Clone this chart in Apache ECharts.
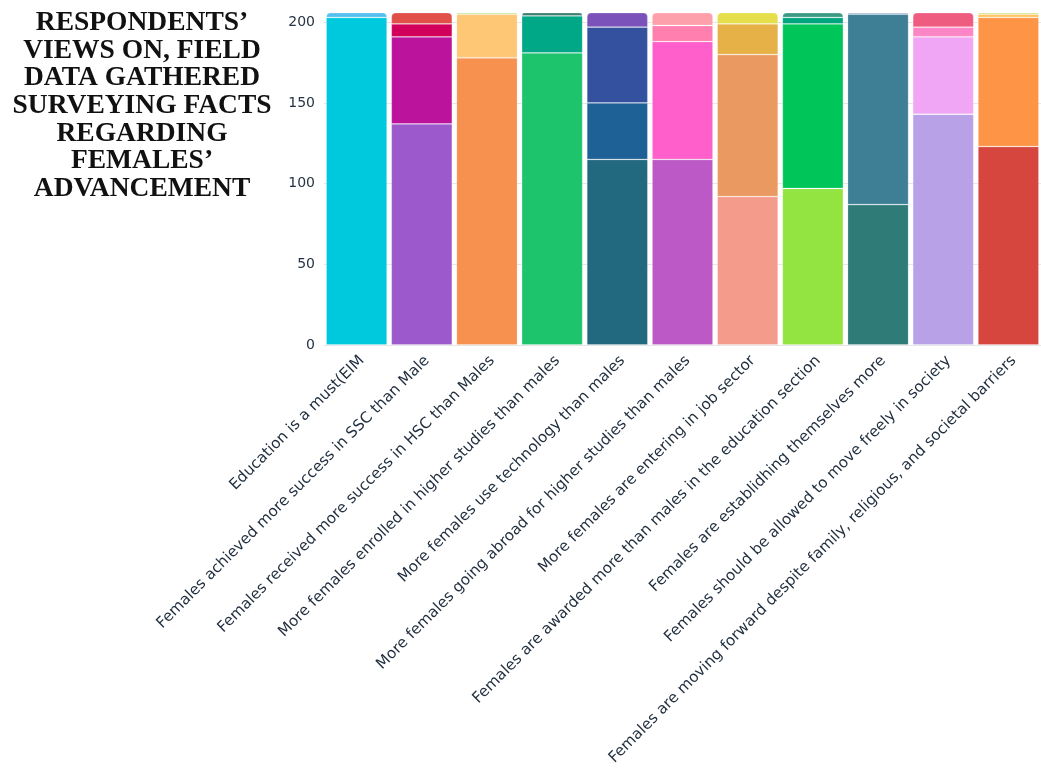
<!DOCTYPE html>
<html>
<head>
<meta charset="utf-8">
<script src="https://cdn.jsdelivr.net/npm/echarts@6/dist/echarts.min.js"></script>
<style>
html,body{margin:0;padding:0;background:#fff;}
#chart{width:1041px;height:769px;}
</style>
</head>
<body>
<div id="chart"></div>
<script>
const titleText = "RESPONDENTS’\nVIEWS ON, FIELD\nDATA GATHERED\nSURVEYING FACTS\nREGARDING\nFEMALES’\nADVANCEMENT";
const categories = [
  "Education is a must(EIM",
  "Females achieved more success in SSC than Male",
  "Females received more success in HSC than Males",
  "More females enrolled in higher studies than males",
  "More females use technology than males",
  "More females going abroad for higher studies than males",
  "More females are entering in job sector",
  "Females are awarded more than males in the education section",
  "Females are establidhing themselves more",
  "Females should be allowed to move freely in society",
  "Females are moving forward despite family, religious, and societal barriers"
];
const yTicks = [0, 50, 100, 150, 200];
const level0 = [203, 137, 178, 181, 115, 115, 92, 97, 87, 143, 123];
const level1 = [3, 54, 27, 23, 35, 73, 88, 102, 118, 48, 80];
const level2 = [null, 8, 1, 2, 47, 10, 19, 4, 1, 6, 2];
const level3 = [null, 7, null, null, 9, 8, 7, 3, null, 9, 1];
const colors0 = ["#00c9dd","#9b59cb","#f6914f","#1dc46c","#22687f","#bd59c6","#f59b8c","#93e441","#2f7b77","#b9a1e8","#d6453e"];
const colors1 = ["#55bff0","#bb139c","#fdc776","#00a887","#1d6196","#ff5fcb","#ea9a60","#00c65a","#3e7f96","#f0a6f4","#fd9446"];
const colors2 = [null,"#d1005a","#a6e07a","#3c7e72","#3451a0","#ff7fae","#e6b146","#00a680","#8aa0c8","#fd87c6","#ffc462"];
const colors3 = [null,"#e05048",null,null,"#7b52b9","#fda0ab","#e4df4a","#3d9a82",null,"#ee5d80","#b8dc5a"];

const levels = [level0, level1, level2, level3];
const levelColors = [colors0, colors1, colors2, colors3];

function topLevel(i){
  let t = 0;
  levels.forEach((arr, k) => { if (arr[i] != null) t = k; });
  return t;
}

const series = levels.map((arr, k) => ({
  type: 'bar',
  stack: 'total',
  barWidth: 61,
  data: arr.map((v, i) => v == null ? '-' : ({
    value: v,
    itemStyle: {
      color: levelColors[k][i],
      borderColor: 'rgba(255,255,255,0.28)',
      borderWidth: 0.8,
      borderRadius: topLevel(i) === k ? [4, 4, 0, 0] : 0
    }
  }))
}));

const chart = echarts.init(document.getElementById('chart'));
chart.setOption({
  animation: false,
  backgroundColor: '#ffffff',
  title: {
    text: titleText,
    left: 142,
    top: 9,
    padding: 0,
    textAlign: 'center',
    textStyle: {
      fontFamily: '"Liberation Serif", "Times New Roman", serif',
      fontWeight: 'bold',
      fontSize: 27.5,
      lineHeight: 27.7,
      color: '#111111'
    }
  },
  grid: { left: 324, width: 728, top: 12.6, height: 332.4, containLabel: false },
  xAxis: {
    type: 'category',
    data: categories,
    axisLine: { show: false },
    axisTick: { show: false },
    axisLabel: {
      rotate: 45,
      interval: 0,
      margin: 8,
      verticalAlign: 'top',
      fontFamily: '"DejaVu Sans", sans-serif',
      fontSize: 15.2,
      color: '#1f2d3d'
    }
  },
  yAxis: {
    type: 'value',
    min: 0,
    max: 206,
    interval: 50,
    axisLine: { show: false },
    axisTick: { show: false },
    axisLabel: {
      margin: 9,
      fontFamily: '"DejaVu Sans", sans-serif',
      fontSize: 14,
      color: '#263445',
      showMaxLabel: false,
      formatter: v => yTicks.indexOf(v) >= 0 ? String(v) : ''
    },
    splitLine: { show: true, showMaxLine: false, lineStyle: { color: '#e6e6e6', width: 1 } }
  },
  series: series
});
</script>
</body>
</html>
